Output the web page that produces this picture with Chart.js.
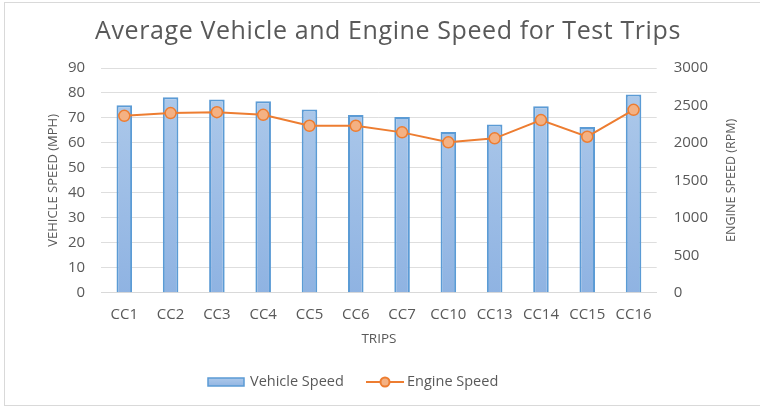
<!DOCTYPE html>
<html>
<head>
<meta charset="utf-8">
<script src="https://cdn.jsdelivr.net/npm/chart.js@4"></script>
<style>
  body { margin: 0; background: #fff; }
  #myCanvas { display: block; }
</style>
</head>
<body>
<canvas id="myCanvas" width="760" height="408"></canvas>
<script>
// data
const trips = ['CC1', 'CC2', 'CC3', 'CC4', 'CC5', 'CC6', 'CC7', 'CC10', 'CC13', 'CC14', 'CC15', 'CC16'];
const vehicleSpeed = [75.1, 78.3, 77.4, 76.7, 73.4, 71.2, 70.4, 64.4, 67.4, 74.7, 66.4, 79.4];
const engineSpeed = [2362, 2398, 2411, 2375, 2229, 2229, 2141, 2008, 2061, 2305, 2083, 2442];

const titleText = 'Average Vehicle and Engine Speed for Test Trips';
const leftTitle = 'VEHICLE SPEED (MPH)';
const rightTitle = 'ENGINE SPEED (RPM)';

const grey = '#595959';
const font = "'Open Sans', sans-serif";

function barFill(context) {
    const area = context.chart.chartArea;
    if (!area) return '#9dbde6';
    const g = context.chart.ctx.createLinearGradient(0, area.top, 0, area.bottom);
    g.addColorStop(0, '#b0cbeb');
    g.addColorStop(1, '#8fb3e2');
    return g;
}

// little legend symbols
function makeBarSymbol() {
    const c = document.createElement('canvas');
    c.width = 38; c.height = 10;
    const x = c.getContext('2d');
    const g = x.createLinearGradient(0, 0, 0, 10);
    g.addColorStop(0, '#b0cbeb');
    g.addColorStop(1, '#8fb3e2');
    x.fillStyle = g;
    x.fillRect(1, 1, 36, 8);
    x.strokeStyle = '#5b9bd5';
    x.lineWidth = 1.5;
    x.strokeRect(1, 1, 36, 8);
    return c;
}
function makeLineSymbol() {
    const c = document.createElement('canvas');
    c.width = 38; c.height = 12;
    const x = c.getContext('2d');
    x.strokeStyle = '#ed7d31';
    x.lineWidth = 2;
    x.beginPath(); x.moveTo(0, 6); x.lineTo(38, 6); x.stroke();
    x.fillStyle = '#f4b183';
    x.beginPath(); x.arc(19, 6, 4.5, 0, Math.PI * 2); x.fill(); x.stroke();
    return c;
}
const barSymbol = makeBarSymbol();
const lineSymbol = makeLineSymbol();

function vText(ctx, text, x, y) {
    ctx.save();
    ctx.translate(x, y);
    ctx.rotate(-Math.PI / 2);
    ctx.fillText(text, 0, 0);
    ctx.restore();
}

// white background, grey frame, title, axis titles and legend
const framePlugin = {
    id: 'frame',
    beforeDraw(chart) {
        const ctx = chart.ctx;
        ctx.save();
        ctx.fillStyle = '#fff';
        ctx.fillRect(0, 0, chart.width, chart.height);
        ctx.strokeStyle = '#d9d9d9';
        ctx.lineWidth = 1;
        ctx.strokeRect(4.5, 2.5, chart.width - 4, chart.height - 5);
        ctx.restore();
    },
    afterDraw(chart) {
        const ctx = chart.ctx;
        const area = chart.chartArea;
        const midY = (area.top + area.bottom) / 2;
        ctx.save();
        ctx.fillStyle = grey;
        ctx.textAlign = 'center';
        ctx.textBaseline = 'middle';
        ctx.font = '25px ' + font;
        ctx.letterSpacing = '0.6px';
        ctx.fillText(titleText, 388, 32);
        ctx.letterSpacing = '0px';
        ctx.font = '13px ' + font;
        vText(ctx, leftTitle, 53, midY);
        ctx.font = '12.5px ' + font;
        vText(ctx, rightTitle, 731, midY);

        // legend
        ctx.textAlign = 'left';
        ctx.font = '14.5px ' + font;
        ctx.drawImage(barSymbol, 207, 377);
        ctx.fillText('Vehicle Speed', 250, 382);
        ctx.drawImage(lineSymbol, 366, 376);
        ctx.fillText('Engine Speed', 407, 382);
        ctx.restore();
    }
};

const ctx = document.getElementById('myCanvas').getContext('2d');
const myChart = new Chart(ctx, {
    data: {
        labels: trips,
        datasets: [{
            type: 'line',
            label: 'Engine Speed',
            data: engineSpeed,
            yAxisID: 'y1',
            borderColor: '#ed7d31',
            borderWidth: 2,
            pointBackgroundColor: '#f4b183',
            pointBorderColor: '#ed7d31',
            pointBorderWidth: 1.5,
            pointRadius: 5.5,
            tension: 0,
            order: 0
        }, {
            type: 'bar',
            label: 'Vehicle Speed',
            data: vehicleSpeed,
            yAxisID: 'y',
            backgroundColor: barFill,
            borderColor: '#5b9bd5',
            borderWidth: 2,
            categoryPercentage: 0.8,
            barPercentage: 0.42,
            order: 1
        }]
    },
    options: {
        responsive: false,
        animation: false,
        layout: { padding: { left: 52, right: 35, top: 68, bottom: 55 } },
        plugins: {
            title: { display: false },
            legend: { display: false },
            tooltip: { enabled: false }
        },
        scales: {
            x: {
                grid: { display: false },
                border: { color: '#d9d9d9' },
                ticks: { color: grey, font: { family: font, size: 15 }, maxRotation: 0, autoSkip: false, padding: 5 },
                title: { display: true, text: 'TRIPS', color: grey, font: { family: font, size: 13.5 }, padding: { top: 2, bottom: 6 } }
            },
            y: {
                position: 'left',
                min: 0, max: 90,
                ticks: { stepSize: 10, color: grey, font: { family: font, size: 15 }, padding: 16 },
                grid: { color: '#dedede', drawTicks: false },
                border: { display: false }
            },
            y1: {
                position: 'right',
                min: 0, max: 3000,
                ticks: {
                    stepSize: 500, color: grey, font: { family: font, size: 15 }, padding: 17,
                    callback: (v) => String(v)
                },
                grid: { display: false, drawTicks: false },
                border: { display: false }
            }
        }
    },
    plugins: [framePlugin]
});
</script>
</body>
</html>
